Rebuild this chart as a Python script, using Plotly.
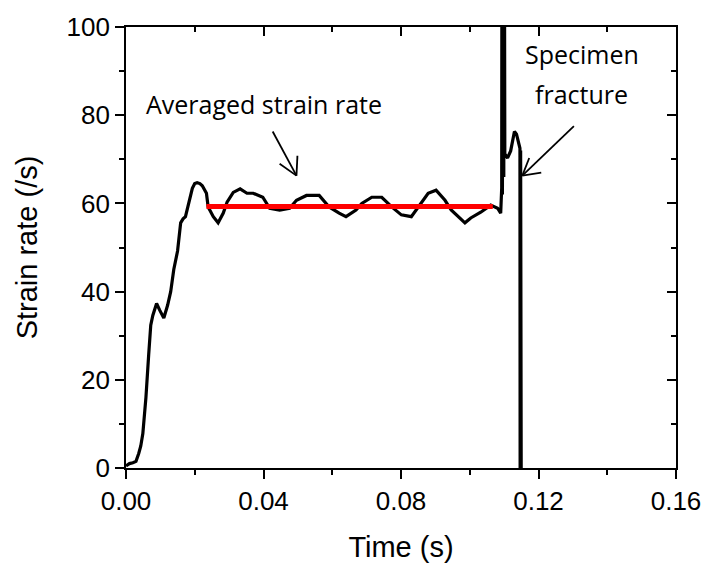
import plotly.graph_objects as go

# Strain-rate history
time_s = [0.0000, 0.0010, 0.0020, 0.0029, 0.0037, 0.0043, 0.0049, 0.0058, 0.0066, 0.0072,
          0.0078, 0.0089, 0.0098, 0.0110, 0.0121, 0.0130, 0.0139, 0.0150, 0.0159, 0.0166,
          0.0173, 0.0182, 0.0193, 0.0200, 0.0207, 0.0215, 0.0222, 0.0234, 0.0239, 0.0254,
          0.0268, 0.0283, 0.0294, 0.0312, 0.0332, 0.0352, 0.0370, 0.0398, 0.0418, 0.0447,
          0.0476, 0.0496, 0.0525, 0.0562, 0.0591, 0.0620, 0.0640, 0.0669, 0.0686, 0.0715,
          0.0744, 0.0773, 0.0801, 0.0830, 0.0859, 0.0879, 0.0902, 0.0928, 0.0946, 0.0966,
          0.0986, 0.1003, 0.1032, 0.1061, 0.1081, 0.1090, 0.1093, 0.1094, 0.1095, 0.1096,
          0.1097, 0.1098, 0.1099, 0.1100, 0.1102, 0.1110, 0.1119, 0.1130, 0.1136, 0.1144,
          0.1146, 0.1147, 0.1148, 0.1149, 0.1150, 0.1151]
strain_rate = [0.5, 1.0, 1.2, 1.5, 3.3, 5.0, 7.8, 16.0, 25.7, 32.4,
               34.6, 37.3, 35.8, 34.0, 36.9, 40.0, 45.0, 49.2, 55.6, 56.5,
               57.0, 60.0, 63.4, 64.5, 64.7, 64.5, 64.0, 62.3, 59.2, 57.0,
               55.6, 57.8, 60.3, 62.5, 63.3, 62.3, 62.3, 61.4, 58.9, 58.5,
               58.9, 60.7, 61.8, 61.8, 59.2, 57.8, 57.0, 58.5, 60.0, 61.4,
               61.4, 59.2, 57.4, 57.0, 60.0, 62.3, 63.0, 60.7, 58.5, 57.0,
               55.6, 56.7, 58.0, 59.6, 58.9, 57.8, 63.6, 160.0, 62.0, 160.0,
               64.0, 160.0, 66.0, 160.0, 71.2, 70.3, 71.9, 76.3, 75.7, 73.4,
               72.5, -60.0, 72.0, -60.0, 70.0, -60.0]

# Averaged strain rate (red line)
avg_time = [0.0234, 0.1067]
avg_rate = [59.3, 59.3]

x_ticks = [0.00, 0.04, 0.08, 0.12, 0.16]
x_tick_text = ["0.00", "0.04", "0.08", "0.12", "0.16"]
y_ticks = [0, 20, 40, 60, 80, 100]

AX_FONT = "Liberation Sans, Arial, sans-serif"
ANN_FONT = "Open Sans, Noto Sans, sans-serif"

fig = go.Figure()
fig.add_trace(go.Scatter(x=time_s, y=strain_rate, mode="lines",
                         line=dict(color="black", width=3.2), showlegend=False))
fig.add_trace(go.Scatter(x=avg_time, y=avg_rate, mode="lines",
                         line=dict(color="#ff0000", width=5), showlegend=False))
# invisible trace on overlay axes (mirror ticks pointing inward)
fig.add_trace(go.Scatter(x=[None], y=[None], xaxis="x2", yaxis="y2",
                         showlegend=False, hoverinfo="skip"))

axis_line = dict(showline=True, linecolor="black", linewidth=1.6, showgrid=False,
                 zeroline=False)

fig.update_layout(
    width=713, height=570,
    margin=dict(l=126, r=34, t=24, b=98),
    plot_bgcolor="white", paper_bgcolor="white",
    xaxis=dict(range=[0, 0.16], tickvals=x_ticks, ticktext=x_tick_text,
               ticks="outside", ticklen=9, tickwidth=1.5, tickcolor="black",
               minor=dict(dtick=0.02, tick0=0, ticks="outside", ticklen=5,
                          tickwidth=1.5, tickcolor="black"),
               tickfont=dict(family=AX_FONT, size=26, color="black"),
               title=dict(text="Time (s)", standoff=22,
                          font=dict(family=AX_FONT, size=29, color="black")),
               **axis_line),
    yaxis=dict(range=[0, 100], tickvals=y_ticks,
               ticks="outside", ticklen=9, tickwidth=1.5, tickcolor="black",
               minor=dict(dtick=10, tick0=0, ticks="outside", ticklen=5,
                          tickwidth=1.5, tickcolor="black"),
               tickfont=dict(family=AX_FONT, size=26, color="black"),
               title=dict(text="Strain rate (/s)", standoff=20,
                          font=dict(family=AX_FONT, size=29, color="black")),
               **axis_line),
    xaxis2=dict(range=[0, 0.16], overlaying="x", side="top", anchor="y2",
                tickvals=x_ticks, showticklabels=False,
                ticks="inside", ticklen=9, tickwidth=1.5, tickcolor="black",
                minor=dict(dtick=0.02, tick0=0, ticks="inside", ticklen=5,
                           tickwidth=1.5, tickcolor="black"),
                **axis_line),
    yaxis2=dict(range=[0, 100], overlaying="y", side="right", anchor="x2",
                tickvals=y_ticks, showticklabels=False,
                ticks="inside", ticklen=9, tickwidth=1.5, tickcolor="black",
                minor=dict(dtick=10, tick0=0, ticks="inside", ticklen=5,
                           tickwidth=1.5, tickcolor="black"),
                **axis_line),
)

# Annotation texts
fig.add_annotation(x=0.0401, y=82.6, text="Averaged strain rate", showarrow=False,
                   font=dict(family=ANN_FONT, size=25, color="black"))
fig.add_annotation(x=0.1326, y=93.8, text="Specimen", showarrow=False,
                   font=dict(family=ANN_FONT, size=25, color="black"))
fig.add_annotation(x=0.1326, y=84.8, text="fracture", showarrow=False,
                   font=dict(family=ANN_FONT, size=25, color="black"))

# Open arrows (shaft + two wing lines)
arrows = [
    ((0.04267, 76.3), (0.04959, 66.3), [(0.04468, 69.0), (0.04987, 70.8)]),
    ((0.1303, 77.5), (0.1153, 66.3), [(0.1208, 67.0), (0.1173, 70.3)]),
]
for start, tip, wings in arrows:
    fig.add_shape(type="line", x0=start[0], y0=start[1], x1=tip[0], y1=tip[1],
                  line=dict(color="black", width=1.8))
    for w in wings:
        fig.add_shape(type="line", x0=w[0], y0=w[1], x1=tip[0], y1=tip[1],
                      line=dict(color="black", width=1.8))

fig.write_html("out.html")
